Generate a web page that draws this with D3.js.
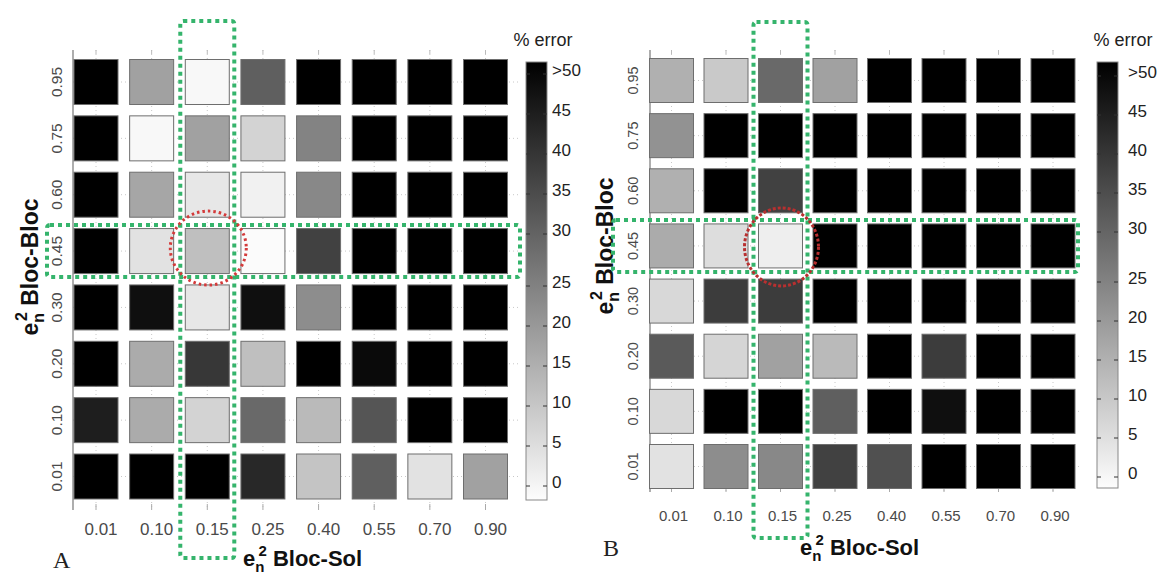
<!DOCTYPE html>
<html>
<head>
<meta charset="utf-8">
<script src="https://cdn.jsdelivr.net/npm/d3@7"></script>
<style>
  html, body { margin: 0; padding: 0; background: #fff; }
  svg { display: block; font-family: "Liberation Sans", Arial, sans-serif; }
</style>
</head>
<body>
<svg id="chart" width="1160" height="575"></svg>
<script>
// ---------- DATA ----------
const xCats = ["0.01", "0.10", "0.15", "0.25", "0.40", "0.55", "0.70", "0.90"];
const yCats = ["0.95", "0.75", "0.60", "0.45", "0.30", "0.20", "0.10", "0.01"]; // top to bottom
const cbarTicks = [0, 5, 10, 15, 20, 25, 30, 35, 40, 45, 50];
const cbarLabels = ["0", "5", "10", "15", "20", "25", "30", "35", "40", "45", ">50"];
const highlightX = "0.15";
const highlightY = "0.45";

// % error, rows follow yCats (0.95 at top), columns follow xCats; 60 means ">50"
const errorsA = [
  [60, 18, 0.5, 31, 60, 60, 60, 60],
  [60, 0.5, 18, 8, 24, 60, 60, 60],
  [60, 17, 4, 2, 23, 60, 60, 60],
  [60, 5, 12, 0, 37, 60, 60, 60],
  [60, 47, 4, 47, 22, 60, 60, 60],
  [60, 16, 39, 12, 60, 48, 60, 60],
  [44, 16, 8, 29, 13, 33, 60, 60],
  [60, 60, 60, 42, 11, 31, 5, 18]
];
const errorsB = [
  [15, 10, 29, 18, 60, 60, 60, 60],
  [21, 60, 60, 60, 60, 60, 60, 60],
  [15, 60, 37, 60, 60, 60, 60, 60],
  [16, 6, 2.5, 60, 60, 60, 60, 60],
  [7, 38, 38, 60, 60, 60, 60, 60],
  [32, 7.5, 18, 13, 60, 38, 60, 60],
  [7, 60, 60, 31, 60, 47, 60, 60],
  [5, 22, 23, 37, 34, 60, 60, 60]
];

// ---------- LAYOUT ----------
const panels = [
  {
    name: "A", data: errorsA,
    xRange: [96, 485.5], yRange: [82, 476.5], cellW: 44, cellH: 45,
    axisLeft: 73, axisTop: 50, axisBottom: 510, axisRight: 518,
    xLabelDx: 5, xLabelY: 529, xLabelSize: 17, yLabelX: 56, yLabelSize: 15.5,
    yTitle: { x: 30, y: 267 }, xTitle: { x: 243, y: 566 },
    letter: { x: 53, y: 568 },
    cbar: { x: 526, w: 21, top: 62, bottom: 500, domain: [0, 25, 30, 50], range: [482, 282, 230, 70], labelX: 552, titleX: 543 },
    vRect: { top: 21, bottom: 558, pad: 27 },
    hRect: { left: 47, right: 520, pad: 26 },
    ring: { rx: 38, ry: 37, dy: -3, color: "#d43a3a", dash: "2.5 3" },
    green: "#35b46c"
  },
  {
    name: "B", data: errorsB,
    xRange: [671.5, 1053], yRange: [80.5, 466.5], cellW: 44, cellH: 44,
    axisLeft: 650, axisTop: 50, axisBottom: 492, axisRight: 1080,
    xLabelDx: 2, xLabelY: 515, xLabelSize: 15, yLabelX: 633, yLabelSize: 14.5,
    yTitle: { x: 605, y: 246 }, xTitle: { x: 800, y: 555 },
    letter: { x: 603, y: 556 },
    cbar: { x: 1097, w: 21, top: 62, bottom: 488, domain: [0, 25, 30, 50], range: [473, 278, 228, 72], labelX: 1128, titleX: 1123 },
    vRect: { top: 22, bottom: 538, pad: 27 },
    hRect: { left: 613, right: 1078, pad: 26 },
    ring: { rx: 37, ry: 39, dy: 1, color: "#b83030", dash: "3 2" },
    green: "#35b46c"
  }
];

const svg = d3.select("#chart");
const defs = svg.append("defs");
const grad = defs.append("linearGradient").attr("id", "cbarGrad")
  .attr("x1", 0).attr("y1", 1).attr("x2", 0).attr("y2", 0);
grad.append("stop").attr("offset", "0%").attr("stop-color", "#fdfdfd");
grad.append("stop").attr("offset", "100%").attr("stop-color", "#000");

const color = d3.scaleLinear().domain([0, 50]).range(["#fbfbfb", "#000"]).clamp(true);

panels.forEach(p => {
  const g = svg.append("g");
  const x = d3.scalePoint().domain(xCats).range(p.xRange);
  const y = d3.scalePoint().domain(yCats).range(p.yRange);

  // faint dotted grid
  g.append("g").selectAll("line").data(xCats).join("line")
    .attr("x1", d => x(d)).attr("x2", d => x(d))
    .attr("y1", p.axisTop).attr("y2", p.axisBottom)
    .attr("stroke", "#c8c8c8").attr("stroke-width", 1).attr("stroke-dasharray", "1 3");
  g.append("g").selectAll("line").data(yCats).join("line")
    .attr("y1", d => y(d)).attr("y2", d => y(d))
    .attr("x1", p.axisLeft).attr("x2", p.axisRight)
    .attr("stroke", "#c8c8c8").attr("stroke-width", 1).attr("stroke-dasharray", "1 3");

  // axis lines and ticks
  g.append("line").attr("x1", p.axisLeft).attr("x2", p.axisLeft)
    .attr("y1", p.axisTop).attr("y2", p.axisBottom).attr("stroke", "#777").attr("stroke-width", 1.2);
  g.append("g").selectAll("line").data(yCats).join("line")
    .attr("x1", p.axisLeft).attr("x2", p.axisLeft + 4)
    .attr("y1", d => y(d)).attr("y2", d => y(d)).attr("stroke", "#999");
  g.append("g").selectAll("line").data(xCats).join("line")
    .attr("x1", d => x(d)).attr("x2", d => x(d))
    .attr("y1", p.axisBottom).attr("y2", p.axisBottom - 6).attr("stroke", "#aaa");
  g.append("g").selectAll("line").data(xCats).join("line")
    .attr("x1", d => x(d)).attr("x2", d => x(d))
    .attr("y1", p.axisTop).attr("y2", p.axisTop + 4).attr("stroke", "#bbb");

  // cells
  const cells = [];
  p.data.forEach((row, i) => row.forEach((v, j) => cells.push({ xc: xCats[j], yc: yCats[i], v })));
  g.append("g").selectAll("rect").data(cells).join("rect")
    .attr("x", d => x(d.xc) - p.cellW / 2)
    .attr("y", d => y(d.yc) - p.cellH / 2)
    .attr("width", p.cellW).attr("height", p.cellH)
    .attr("fill", d => color(d.v))
    .attr("stroke", "#6e6e6e").attr("stroke-width", 1);

  // tick labels
  g.append("g").selectAll("text").data(xCats).join("text")
    .attr("x", d => x(d) + p.xLabelDx).attr("y", p.xLabelY)
    .attr("text-anchor", "middle").attr("dominant-baseline", "central")
    .attr("font-size", p.xLabelSize).attr("fill", "#4a4a4a").text(d => d);
  g.append("g").selectAll("text").data(yCats).join("text")
    .attr("transform", d => `translate(${p.yLabelX},${y(d)}) rotate(-90)`)
    .attr("text-anchor", "middle").attr("dominant-baseline", "central")
    .attr("font-size", p.yLabelSize).attr("fill", "#4a4a4a").text(d => d);

  // axis titles
  const yt = g.append("text")
    .attr("transform", `translate(${p.yTitle.x + 8},${p.yTitle.y}) rotate(-90)`)
    .attr("text-anchor", "middle").attr("font-size", 23).attr("font-weight", "bold").attr("fill", "#111");
  yt.append("tspan").text("e");
  yt.append("tspan").attr("font-size", 16).attr("dy", 6).text("n");
  yt.append("tspan").attr("font-size", 16).attr("dx", -8).attr("dy", -17).text("2");
  yt.append("tspan").attr("dy", 11).text(" Bloc-Bloc");

  const xt = g.append("text")
    .attr("x", p.xTitle.x).attr("y", p.xTitle.y)
    .attr("font-size", 22).attr("font-weight", "bold").attr("fill", "#111");
  xt.append("tspan").text("e");
  xt.append("tspan").attr("font-size", 15).attr("dy", 6).text("n");
  xt.append("tspan").attr("font-size", 15).attr("dx", -6).attr("dy", -16).text("2");
  xt.append("tspan").attr("dy", 10).text(" Bloc-Sol");

  g.append("text").attr("x", p.letter.x).attr("y", p.letter.y)
    .attr("font-family", "'Liberation Serif', 'Times New Roman', serif")
    .attr("font-size", 24).attr("fill", "#222").text(p.name);

  // colorbar
  const c = p.cbar;
  const cy = d3.scaleLinear().domain(c.domain).range(c.range);
  g.append("rect").attr("x", c.x).attr("y", c.top).attr("width", c.w).attr("height", c.bottom - c.top)
    .attr("fill", "url(#cbarGrad)").attr("stroke", "#888").attr("stroke-width", 1);
  g.append("g").selectAll("line").data(cbarTicks).join("line")
    .attr("x1", c.x).attr("x2", c.x + 4).attr("y1", d => cy(d) + 4).attr("y2", d => cy(d) + 4)
    .attr("stroke", "#333");
  g.append("g").selectAll("line").data(cbarTicks).join("line")
    .attr("x1", c.x + c.w - 4).attr("x2", c.x + c.w).attr("y1", d => cy(d) + 4).attr("y2", d => cy(d) + 4)
    .attr("stroke", "#333");
  g.append("g").selectAll("text").data(cbarTicks).join("text")
    .attr("x", c.labelX).attr("y", d => cy(d))
    .attr("dominant-baseline", "central").attr("font-size", 17).attr("fill", "#222")
    .text((d, i) => cbarLabels[i]);
  g.append("text").attr("x", c.titleX).attr("y", 40).attr("text-anchor", "middle")
    .attr("dominant-baseline", "central").attr("font-size", 18).attr("fill", "#222").text("% error");

  // highlight annotations
  const hx = x(highlightX), hy = y(highlightY);
  g.append("rect")
    .attr("x", hx - p.vRect.pad).attr("y", p.vRect.top)
    .attr("width", 2 * p.vRect.pad).attr("height", p.vRect.bottom - p.vRect.top)
    .attr("rx", 3).attr("fill", "none").attr("stroke", p.green)
    .attr("stroke-width", 4).attr("stroke-dasharray", "4 4");
  g.append("rect")
    .attr("x", p.hRect.left).attr("y", hy - p.hRect.pad)
    .attr("width", p.hRect.right - p.hRect.left).attr("height", 2 * p.hRect.pad)
    .attr("rx", 3).attr("fill", "none").attr("stroke", p.green)
    .attr("stroke-width", 4).attr("stroke-dasharray", "4 4");
  g.append("ellipse")
    .attr("cx", hx + 1).attr("cy", hy + p.ring.dy)
    .attr("rx", p.ring.rx).attr("ry", p.ring.ry)
    .attr("fill", "none").attr("stroke", p.ring.color)
    .attr("stroke-width", 3).attr("stroke-dasharray", p.ring.dash);
});
</script>
</body>
</html>
